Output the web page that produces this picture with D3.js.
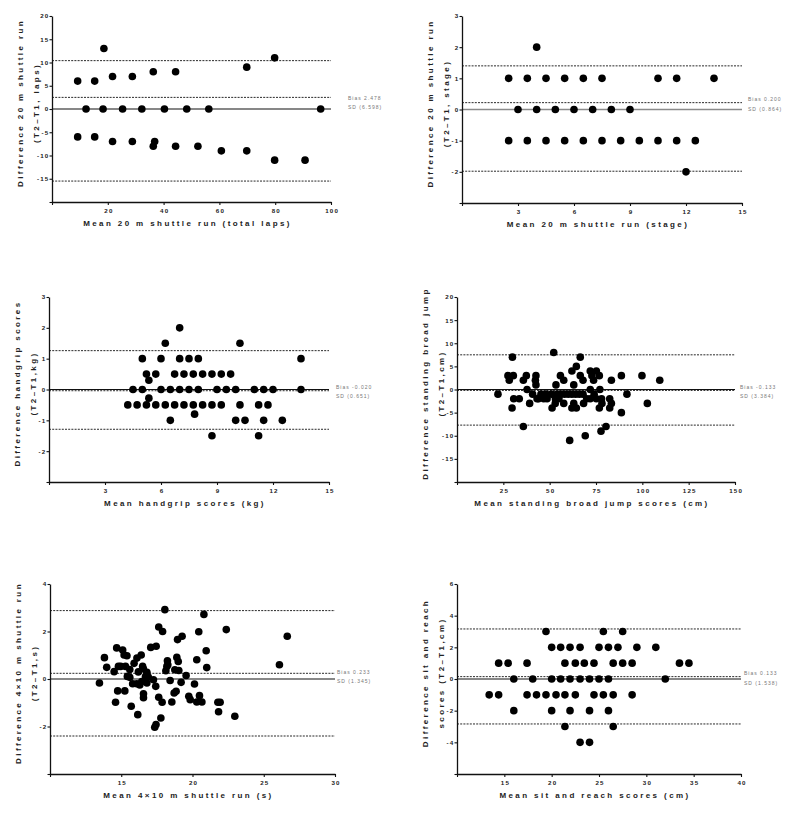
<!DOCTYPE html>
<html>
<head>
<meta charset="utf-8">
<script src="https://cdn.jsdelivr.net/npm/d3@7"></script>
<style>
  body { margin: 0; background: #fff; }
  svg text { font-family: "Liberation Sans", Arial, sans-serif; }
  .tick text { font-size: 6.2px; font-weight: bold; letter-spacing: 1.2px; fill: #222; }
  .title { font-size: 8px; font-weight: bold; letter-spacing: 2.4px; fill: #222; }
  .stat { font-size: 5px; letter-spacing: 1px; fill: #777; }
</style>
</head>
<body>
<div id="chart"></div>
<script>
// Bland-Altman data: [mean, difference]
const lapsPoints = [[9.2,6],[15.3,6],[18.6,13],[21.7,7],[28.8,7],[36.3,8],[44.3,8],[69.8,9],[79.8,11],
  [12.2,0],[18.3,0],[25.3,0],[32.2,0],[40.3,0],[48.3,0],[56.2,0],[96.3,0],
  [9.2,-6],[15.3,-6],[21.7,-7],[28.8,-7],[36.3,-8],[36.8,-7],[44.3,-8],[52.3,-8],[60.7,-9],[69.8,-9],[79.8,-11],[90.7,-11]];
const lapsLines = [10.4, 2.5, -15.5];

const stagePoints = [[4,2],
  [2.5,1],[3.5,1],[4.5,1],[5.5,1],[6.5,1],[7.5,1],[10.5,1],[11.5,1],[13.5,1],
  [3,0],[4,0],[5,0],[6,0],[7,0],[8,0],[9,0],
  [2.5,-1],[3.5,-1],[4.5,-1],[5.5,-1],[6.5,-1],[7.5,-1],[8.5,-1],[9.5,-1],[10.5,-1],[11.5,-1],[12.5,-1],
  [12,-2]];
const stageLines = [1.4, 0.22, -1.98];

const gripPoints = [[7,2],[6.23,1.5],[10.23,1.5],
  [5,1],[6,1],[7,1],[7.5,1],[8,1],[13.5,1],
  [5.22,0.5],[5.72,0.5],[6.73,0.5],[7.23,0.5],[7.73,0.5],[8.23,0.5],[8.73,0.5],[9.23,0.5],[9.73,0.5],
  [5.35,0.3],
  [4.5,0],[5,0],[6,0],[6.5,0],[7,0],[7.5,0],[8,0],[9,0],[9.5,0],[10,0],[11,0],[11.5,0],[12,0],[13.5,0],
  [5.35,-0.28],
  [4.22,-0.5],[4.72,-0.5],[5.22,-0.5],[5.72,-0.5],[6.23,-0.5],[6.73,-0.5],[7.23,-0.5],[7.73,-0.5],[8.23,-0.5],
  [8.73,-0.5],[9.23,-0.5],[10.23,-0.5],[11.23,-0.5],[11.73,-0.5],
  [7.8,-0.8],
  [6.5,-1],[10,-1],[10.5,-1],[11.5,-1],[12.5,-1],
  [8.73,-1.5],[11.23,-1.5]];
const gripLines = [1.26, -0.04, -1.29];

const jumpPoints = [[22.1,-1],[29.9,7],[27.5,3],[28.2,2],[30.4,3],[29.7,-4],[30.6,-2],[33.6,-2],
  [35.8,2],[37.4,3],[37.8,0],[35.8,-8],[39.2,-3],[40.8,-1],[42.3,2],[42.6,3],[42.6,1],[43.2,-2],
  [45.3,-1],[46.8,-2],[48.6,-2],[44,-2],[48,-1],[52.2,8],[51.3,-4],[53.1,-2],[53.4,1],[55.8,3],[54,-1],
  [57.6,2],[57.6,-3],[51,-1],[56,-1],[58,-1],[60,-1],[62,4],[64.4,5],[66.5,7],[66.5,3],[68,2],[63,1],
  [62,-4],[64.4,-4],[68.3,-3],[69.2,-10],[60.8,-11],[62,-1],[64,-1],[66,-1],[68,-1],[53,-3],[55,-2],
  [71.9,4],[75.2,4],[72.8,3],[76.8,3],[73.7,2],[71.9,0],[77.1,0],[71.9,-2],[75.2,-2],[76.8,-4],
  [78.2,-3],[77.7,-9],[80.4,-8],[78,-2],[82.4,-2],[82.4,-4],[83.3,-3],[83.3,2],[88.7,3],[88.7,-5],
  [91.7,-1],[99.8,3],[102.7,-3],[109.4,2],[63,-3],[74,-1],[70,-2]];
const jumpLines = [7.5, -0.2, -7.7];

const agilityPoints = [[13.47,-0.17],[13.82,0.9],[13.98,0.49],[14.5,0.31],[14.68,1.31],[14.8,0.53],
  [14.75,-0.5],[14.6,-0.98],[15.1,1.22],[15.2,1.01],[15.4,0.98],[15.25,-0.5],[14.96,0.53],[15.3,0.53],
  [15.43,0.11],[15.6,0.07],[15.7,-1.15],[15.8,-0.2],[15.9,0.66],[16.1,0.88],[16.16,-1.5],[16.09,-0.2],
  [16.3,-0.25],[16.4,1.01],[16.5,0.53],[16.56,0.42],[16.44,-0.11],[16.56,-0.62],[16.56,-0.79],[16.8,0.28],
  [16.8,-0.17],[16.9,0.08],[17.07,1.33],[17.26,-0.03],[17.45,1.38],[17.42,-0.31],[17.35,-2.03],[17.44,-1.92],
  [17.63,2.19],[17.63,-0.77],[17.78,-1.64],[17.9,2.0],[17.87,-0.98],[18.06,2.92],[18.13,0.35],[18.2,0.53],
  [18.24,0.77],[18.27,0.6],[18.43,-0.06],[18.55,-0.97],[18.71,-0.59],[18.85,-0.52],[18.76,0.39],[18.9,0.91],
  [18.95,1.66],[19.0,0.74],[19.04,0.36],[19.27,1.8],[19.2,-0.14],[19.55,0.15],[19.74,-0.73],[19.84,-0.87],
  [20.14,-0.21],[20.3,-0.97],[20.3,0.81],[20.44,1.99],[20.49,-0.7],[20.66,-0.97],[20.8,2.72],[20.96,1.19],
  [21.0,0.48],[21.78,-0.98],[21.94,-0.98],[21.83,-1.38],[22.37,2.08],[22.97,-1.57],[26.1,0.6],[26.65,1.8],
  [16.2,0.3],[15.6,0.4],[16.7,0.1]];
const agilityLines = [2.88, 0.24, -2.4];

const reachPoints = [[19.4,3],[25.46,3],[27.5,3],
  [20,2],[20.95,2],[21.94,2],[23,2],[25,2],[26,2],[27,2],[29,2],[31,2],
  [14.4,1],[15.4,1],[17.4,1],[21.4,1],[22.5,1],[23.45,1],[24.47,1],[26.5,1],[27.5,1],[28.5,1],[33.5,1],[34.5,1],
  [16,0],[18,0],[20,0],[20.95,0],[21.94,0],[23,0],[24,0],[25,0],[26,0],[32,0],
  [13.4,-1],[14.4,-1],[17.4,-1],[18.4,-1],[19.4,-1],[20.46,-1],[21.4,-1],[22.5,-1],[24.47,-1],[25.46,-1],[26.5,-1],[28.5,-1],
  [16,-2],[20,-2],[21.94,-2],[24,-2],[26,-2],
  [21.4,-3],[26.5,-3],
  [23,-4],[24,-4]];
const reachLines = [3.16, 0.15, -2.84];

const yTitles = [
  ["Difference 20 m shuttle run", "(T2\u2013T1, laps)"],
  ["Difference 20 m shuttle run", "(T2\u2013T1, stage)"],
  ["Difference handgrip scores", "(T2\u2013T1,kg)"],
  ["Difference standing broad jump", "(T2\u2013T1,cm)"],
  ["Difference 4\u00d710 m shuttle run", "(T2\u2013T1,s)"],
  ["Difference sit and reach", "scores (T2\u2013T1,cm)"]
];
const xTitles = ["Mean 20 m shuttle run (total laps)", "Mean 20 m shuttle run (stage)",
  "Mean handgrip scores (kg)", "Mean standing broad jump scores (cm)",
  "Mean 4\u00d710 m shuttle run (s)", "Mean sit and reach scores (cm)"];
const statLabels = [["Bias 2.478", "SD (6.598)"], ["Bias 0.200", "SD (0.864)"],
  ["Bias -0.020", "SD (0.651)"], ["Bias -0.133", "SD (3.384)"],
  ["Bias 0.233", "SD (1.345)"], ["Bias 0.133", "SD (1.538)"]];

const xDomains = [[0,100],[0,15],[0,15],[0,150],[10,30],[10,40]];
const xSteps = [20, 3, 3, 25, 5, 5];
const yDomains = [[-20,20],[-3,3],[-3,3],[-20,20],[-4,4],[-6,6]];
const ySteps = [5, 1, 1, 5, 2, 2];

const allPoints = [lapsPoints, stagePoints, gripPoints, jumpPoints, agilityPoints, reachPoints];
const allLines = [lapsLines, stageLines, gripLines, jumpLines, agilityLines, reachLines];

// panel frames (left, top, right, bottom) and stat label placement
const frames = [
  {l: 52, t: 16, r: 331, b: 202, sx: 348, sy: [98, 107]},
  {l: 462, t: 16, r: 742, b: 203, sx: 748, sy: [99, 109]},
  {l: 49, t: 297, r: 329, b: 482, sx: 336, sy: [387, 396]},
  {l: 457, t: 297, r: 735, b: 482, sx: 740, sy: [387, 396]},
  {l: 50, t: 584, r: 335, b: 774, sx: 337, sy: [672, 681]},
  {l: 457, t: 584, r: 741, b: 774, sx: 744, sy: [673, 683]}
];

const width = 796, height = 820;
const svg = d3.select("#chart").append("svg")
  .attr("width", width)
  .attr("height", height);

function steps(dom, step) {
  return d3.range(dom[0], dom[1] + step / 2, step);
}

frames.forEach((f, i) => {
  const x = d3.scaleLinear().domain(xDomains[i]).range([f.l, f.r]);
  const y = d3.scaleLinear().domain(yDomains[i]).range([f.b, f.t]);
  const g = svg.append("g");

  const xTicks = steps(xDomains[i], xSteps[i]);
  const yTicks = steps(yDomains[i], ySteps[i]);

  // reference lines: upper LoA, bias, lower LoA, and zero
  const [upper, bias, lower] = allLines[i];
  g.selectAll("line.ref")
    .data([upper, bias, lower])
    .join("line")
    .attr("class", "ref")
    .attr("x1", f.l).attr("x2", f.r)
    .attr("y1", d => y(d)).attr("y2", d => y(d))
    .attr("stroke", "#111")
    .attr("stroke-width", 0.9)
    .attr("stroke-dasharray", "2,1.2");

  g.append("line")
    .attr("x1", f.l).attr("x2", f.r)
    .attr("y1", y(0)).attr("y2", y(0))
    .attr("stroke", i === 1 ? "#8a8a8a" : "#111")
    .attr("stroke-width", i === 1 ? 1.6 : 1.1);

  // axes
  const yAxis = d3.axisLeft(y)
    .tickValues(yTicks)
    .tickFormat(d => d === yDomains[i][0] ? "" : d)
    .tickSize(2.5).tickSizeOuter(0).tickPadding(1);
  const xAxis = d3.axisBottom(x)
    .tickValues(xTicks)
    .tickFormat(d => d === xDomains[i][0] ? "" : d)
    .tickSize(3).tickSizeOuter(0).tickPadding(4);

  const gy = g.append("g").attr("transform", `translate(${f.l},0)`).call(yAxis);
  const gx = g.append("g").attr("transform", `translate(0,${f.b})`).call(xAxis);
  [gx, gy].forEach(a => {
    a.attr("font-family", null).attr("font-size", null);
    a.select(".domain").attr("stroke", "#111").attr("stroke-width", 1.3);
    a.selectAll(".tick line").attr("stroke", "#111").attr("stroke-width", 1.1);
  });
  // letter-spacing trails the last glyph; pull labels back so they sit centred
  gx.selectAll(".tick text").attr("dx", "0.6px");
  gy.selectAll(".tick text").attr("dx", "1px");

  // points
  g.append("g")
    .selectAll("circle")
    .data(allPoints[i])
    .join("circle")
    .attr("cx", d => x(d[0]))
    .attr("cy", d => y(d[1]))
    .attr("r", 3.8)
    .attr("fill", "#000");

  // axis titles
  const midY = (f.t + f.b) / 2 - 6;
  [f.l - 32, f.l - 16].forEach((tx, k) => {
    g.append("text")
      .attr("class", "title")
      .attr("transform", `translate(${tx},${midY}) rotate(-90)`)
      .attr("text-anchor", "middle")
      .attr("dominant-baseline", "central")
      .text(yTitles[i][k]);
  });
  g.append("text")
    .attr("class", "title")
    .attr("x", (f.l + f.r) / 2 - 4)
    .attr("y", f.b + 24)
    .attr("text-anchor", "middle")
    .text(xTitles[i]);

  // bias / SD labels
  statLabels[i].forEach((s, k) => {
    g.append("text")
      .attr("class", "stat")
      .attr("x", f.sx)
      .attr("y", f.sy[k])
      .attr("dominant-baseline", "central")
      .text(s);
  });
});
</script>
</body>
</html>
